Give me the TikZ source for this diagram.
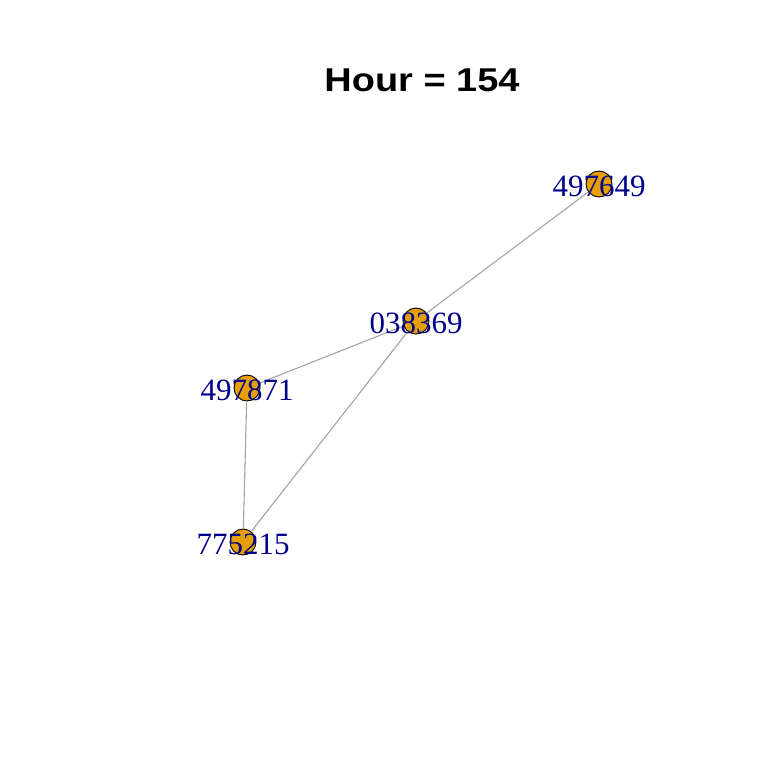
\documentclass[tikz,border=0pt]{standalone}
\usepackage{fontspec}
\setmainfont{Liberation Serif}
\newfontfamily\titlefont{Liberation Sans}
\usepackage{tikz}
\usetikzlibrary{positioning}
\definecolor{vfill}{HTML}{E69F00}
\definecolor{vlab}{RGB}{0,0,139}
\definecolor{elink}{HTML}{A3A3A3}

\begin{document}
\begin{tikzpicture}[x=1pt,y=-1pt,
  vertex/.style={circle,draw=black,line width=0.9pt,fill=vfill,minimum size=26pt,inner sep=0pt},
  vlabel/.style={text=vlab,inner sep=0pt,font=\fontsize{31}{31}\selectfont},
  elinkstyle/.style={draw=elink,line width=1.1pt}]
	\useasboundingbox (0,0) rectangle (768,768);
	\node[font=\titlefont\bfseries\fontsize{33}{33}\selectfont,xscale=1.15,transform shape] (title) at (422,80) {Hour = 154};

	\node[vertex] (v_1) at (599,184) {};
	\node[vertex] (v_2) at (416,321) {};
	\node[vertex] (v_3) at (247,388) {};
	\node[vertex] (v_4) at (243,542) {};

	\path[elinkstyle]
	(v_1) edge (v_2)
	(v_2) edge (v_3)
	      edge (v_4)
	(v_3) edge (v_4);

	\node[vlabel] (l_1) at (599,186) {497649};
	\node[vlabel] (l_2) at (416,323) {038369};
	\node[vlabel] (l_3) at (247,390) {497871};
	\node[vlabel] (l_4) at (243,544) {775215};
\end{tikzpicture}
\end{document}
